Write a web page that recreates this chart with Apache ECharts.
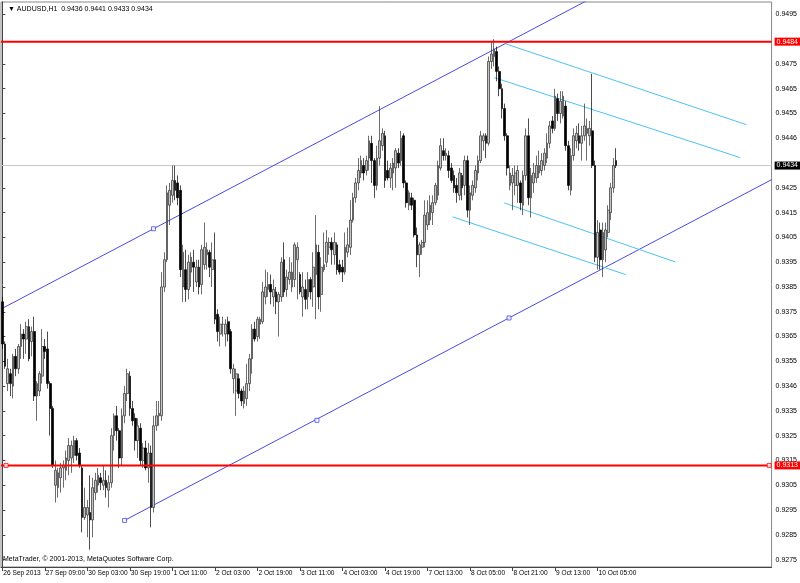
<!DOCTYPE html>
<html><head><meta charset="utf-8">
<script src="https://cdn.jsdelivr.net/npm/echarts@6/dist/echarts.min.js"></script>
<style>html,body{margin:0;padding:0;background:#fff}#c{width:800px;height:583px}</style>
</head><body><div id="c"></div>
<script>
const symbolName = 'AUDUSD,H1';
const xTickLabels = ['26 Sep 2013','27 Sep 09:00','30 Sep 03:00','30 Sep 19:00','1 Oct 11:00','2 Oct 03:00','2 Oct 19:00','3 Oct 11:00','4 Oct 03:00','4 Oct 19:00','7 Oct 13:00','8 Oct 05:00','8 Oct 21:00','9 Oct 13:00','10 Oct 05:00'];
const barsPerLabel = 16;
const totalSlots = 290;
const yTickValues = [0.9495,0.9475,0.9465,0.9455,0.9445,0.9425,0.9415,0.9405,0.9395,0.9385,0.9375,0.9365,0.9355,0.9345,0.9335,0.9325,0.9315,0.9305,0.9295,0.9285,0.9275];
const yTickLabels = ['0.9495','0.9475','0.9465','0.9455','0.9446','0.9425','0.9415','0.9405','0.9395','0.9385','0.9375','0.9365','0.9355','0.9346','0.9335','0.9325','0.9315','0.9305','0.9295','0.9285','0.9275'];

const openP = [
0.9379,0.9362,0.9346,0.9350,0.9345,0.9357,0.9352,0.9361,0.9366,0.9364,
0.9369,0.9363,0.9367,0.9341,0.9343,0.9349,0.9361,0.9360,0.9346,0.9336,
0.9305,0.9304,0.9308,0.9312,0.9311,0.9315,0.9316,0.9317,0.9323,0.9318,
0.9312,0.9292,0.9293,0.9294,0.9291,0.9302,0.9305,0.9308,0.9305,0.9307,
0.9303,0.9306,0.9325,0.9333,0.9327,0.9316,0.9333,0.9342,0.9349,0.9336,
0.9332,0.9323,0.9328,0.9315,0.9320,0.9312,0.9318,0.9296,0.9329,0.9333,
0.9333,0.9385,0.9396,0.9418,0.9422,0.9428,0.9427,0.9424,0.9385,0.9392,
0.9384,0.9391,0.9395,0.9387,0.9393,0.9386,0.9394,0.9398,0.9399,0.9392,
0.9396,0.9374,0.9366,0.9370,0.9366,0.9371,0.9367,0.9348,0.9343,0.9348,
0.9343,0.9338,0.9340,0.9346,0.9356,0.9368,0.9365,0.9370,0.9371,0.9381,
0.9384,0.9386,0.9381,0.9383,0.9379,0.9381,0.9396,0.9384,0.9388,0.9385,
0.9388,0.9396,0.9390,0.9381,0.9384,0.9381,0.9388,0.9385,0.9390,0.9399,
0.9382,0.9392,0.9395,0.9401,0.9403,0.9398,0.9402,0.9394,0.9393,0.9391,
0.9399,0.9401,0.9412,0.9421,0.9427,0.9431,0.9434,0.9432,0.9437,0.9443,
0.9436,0.9426,0.9437,0.9442,0.9446,0.9432,0.9429,0.9431,0.9433,0.9439,
0.9436,0.9446,0.9427,0.9418,0.9421,0.9420,0.9406,0.9398,0.9401,0.9403,
0.9410,0.9412,0.9415,0.9419,0.9422,0.9433,0.9440,0.9438,0.9438,0.9433,
0.9430,0.9426,0.9422,0.9430,0.9426,0.9436,0.9416,0.9422,0.9425,0.9431,
0.9436,0.9444,0.9446,0.9443,0.9476,0.9478,0.9480,0.9472,0.9465,0.9457,
0.9446,0.9426,0.9427,0.9426,0.9426,0.9427,0.9418,0.9430,0.9446,0.9421,
0.9427,0.9429,0.9431,0.9432,0.9434,0.9437,0.9443,0.9452,0.9449,0.9461,
0.9455,0.9454,0.9458,0.9442,0.9424,0.9438,0.9444,0.9446,0.9443,0.9446,
0.9447,0.9446,0.9448,0.9434,0.9397,0.9408,0.9396,0.9400,0.9407,0.9415,
0.9425,0.9436];
const closeP = [
0.9362,0.9353,0.9352,0.9346,0.9357,0.9352,0.9361,0.9366,0.9364,0.9369,
0.9356,0.9367,0.9341,0.9346,0.9350,0.9361,0.9359,0.9346,0.9336,0.9313,
0.9311,0.9310,0.9312,0.9313,0.9316,0.9321,0.9321,0.9323,0.9317,0.9313,
0.9292,0.9296,0.9296,0.9291,0.9304,0.9307,0.9309,0.9306,0.9307,0.9304,
0.9306,0.9325,0.9333,0.9327,0.9316,0.9333,0.9342,0.9350,0.9336,0.9331,
0.9323,0.9329,0.9315,0.9320,0.9312,0.9318,0.9296,0.9329,0.9333,0.9334,
0.9385,0.9396,0.9423,0.9424,0.9428,0.9424,0.9421,0.9392,0.9399,0.9384,
0.9395,0.9397,0.9393,0.9393,0.9385,0.9400,0.9401,0.9400,0.9393,0.9396,
0.9372,0.9367,0.9370,0.9370,0.9370,0.9366,0.9352,0.9352,0.9350,0.9342,
0.9339,0.9343,0.9346,0.9356,0.9368,0.9364,0.9372,0.9372,0.9383,0.9385,
0.9386,0.9383,0.9384,0.9379,0.9382,0.9395,0.9383,0.9389,0.9391,0.9391,
0.9402,0.9401,0.9383,0.9385,0.9380,0.9388,0.9383,0.9393,0.9402,0.9381,
0.9393,0.9394,0.9403,0.9403,0.9400,0.9403,0.9392,0.9391,0.9391,0.9401,
0.9402,0.9412,0.9421,0.9427,0.9432,0.9436,0.9431,0.9436,0.9444,0.9436,
0.9426,0.9437,0.9444,0.9447,0.9428,0.9429,0.9433,0.9435,0.9440,0.9435,
0.9445,0.9427,0.9419,0.9423,0.9418,0.9406,0.9398,0.9402,0.9403,0.9414,
0.9415,0.9418,0.9419,0.9426,0.9434,0.9442,0.9438,0.9439,0.9432,0.9428,
0.9425,0.9423,0.9431,0.9425,0.9436,0.9416,0.9423,0.9426,0.9432,0.9436,
0.9446,0.9446,0.9443,0.9476,0.9479,0.9481,0.9472,0.9465,0.9457,0.9446,
0.9433,0.9431,0.9430,0.9431,0.9432,0.9419,0.9430,0.9446,0.9421,0.9430,
0.9431,0.9434,0.9434,0.9436,0.9439,0.9443,0.9450,0.9449,0.9462,0.9455,
0.9460,0.9462,0.9442,0.9426,0.9438,0.9446,0.9447,0.9443,0.9446,0.9450,
0.9449,0.9449,0.9434,0.9397,0.9407,0.9396,0.9407,0.9408,0.9416,0.9425,
0.9434,0.9434];
const lowP = [
0.9360,0.9352,0.9343,0.9341,0.9340,0.9349,0.9350,0.9356,0.9356,0.9358,
0.9355,0.9357,0.9339,0.9331,0.9341,0.9346,0.9356,0.9344,0.9325,0.9312,
0.9298,0.9300,0.9302,0.9304,0.9307,0.9309,0.9310,0.9314,0.9315,0.9312,
0.9286,0.9291,0.9284,0.9279,0.9284,0.9299,0.9302,0.9303,0.9303,0.9300,
0.9296,0.9304,0.9319,0.9323,0.9312,0.9313,0.9330,0.9339,0.9333,0.9329,
0.9319,0.9316,0.9313,0.9312,0.9311,0.9306,0.9288,0.9294,0.9327,0.9329,
0.9331,0.9383,0.9395,0.9410,0.9419,0.9420,0.9418,0.9389,0.9379,0.9379,
0.9380,0.9385,0.9383,0.9385,0.9382,0.9382,0.9392,0.9392,0.9389,0.9385,
0.9370,0.9363,0.9361,0.9365,0.9361,0.9363,0.9350,0.9342,0.9333,0.9340,
0.9337,0.9336,0.9337,0.9343,0.9350,0.9363,0.9363,0.9364,0.9370,0.9378,
0.9381,0.9378,0.9377,0.9374,0.9365,0.9379,0.9381,0.9381,0.9386,0.9383,
0.9385,0.9380,0.9382,0.9373,0.9376,0.9376,0.9380,0.9377,0.9372,0.9376,
0.9375,0.9391,0.9393,0.9398,0.9394,0.9394,0.9390,0.9390,0.9387,0.9390,
0.9397,0.9398,0.9411,0.9419,0.9424,0.9429,0.9428,0.9430,0.9432,0.9427,
0.9421,0.9424,0.9434,0.9440,0.9425,0.9428,0.9425,0.9424,0.9425,0.9433,
0.9434,0.9425,0.9417,0.9416,0.9416,0.9405,0.9393,0.9389,0.9398,0.9401,
0.9408,0.9410,0.9410,0.9418,0.9420,0.9432,0.9436,0.9436,0.9429,0.9427,
0.9423,0.9419,0.9420,0.9420,0.9422,0.9413,0.9410,0.9420,0.9423,0.9428,
0.9435,0.9440,0.9437,0.9442,0.9473,0.9474,0.9468,0.9462,0.9453,0.9444,
0.9430,0.9424,0.9416,0.9422,0.9419,0.9416,0.9414,0.9428,0.9418,0.9413,
0.9423,0.9427,0.9429,0.9430,0.9432,0.9435,0.9441,0.9447,0.9448,0.9452,
0.9451,0.9453,0.9440,0.9424,0.9422,0.9436,0.9441,0.9440,0.9436,0.9444,
0.9436,0.9442,0.9433,0.9395,0.9392,0.9392,0.9389,0.9395,0.9405,0.9412,
0.9423,0.9433];
const highP = [
0.9381,0.9363,0.9356,0.9352,0.9358,0.9360,0.9362,0.9370,0.9368,0.9371,
0.9372,0.9369,0.9373,0.9347,0.9351,0.9368,0.9364,0.9367,0.9347,0.9337,
0.9315,0.9312,0.9314,0.9315,0.9319,0.9324,0.9323,0.9325,0.9324,0.9320,
0.9313,0.9304,0.9299,0.9309,0.9308,0.9310,0.9312,0.9310,0.9313,0.9311,
0.9309,0.9328,0.9334,0.9337,0.9328,0.9336,0.9345,0.9352,0.9351,0.9339,
0.9334,0.9332,0.9330,0.9322,0.9323,0.9322,0.9321,0.9333,0.9339,0.9339,
0.9391,0.9399,0.9426,0.9427,0.9434,0.9434,0.9430,0.9426,0.9402,0.9400,
0.9398,0.9399,0.9400,0.9396,0.9396,0.9402,0.9411,0.9403,0.9400,0.9403,
0.9407,0.9376,0.9373,0.9373,0.9372,0.9373,0.9368,0.9354,0.9352,0.9350,
0.9344,0.9345,0.9354,0.9358,0.9370,0.9371,0.9373,0.9373,0.9387,0.9392,
0.9391,0.9390,0.9388,0.9385,0.9383,0.9397,0.9403,0.9392,0.9397,0.9395,
0.9403,0.9403,0.9391,0.9391,0.9388,0.9391,0.9389,0.9399,0.9414,0.9402,
0.9397,0.9407,0.9408,0.9405,0.9405,0.9407,0.9403,0.9396,0.9396,0.9407,
0.9409,0.9420,0.9423,0.9429,0.9437,0.9438,0.9437,0.9438,0.9446,0.9446,
0.9437,0.9442,0.9458,0.9449,0.9448,0.9436,0.9435,0.9437,0.9441,0.9441,
0.9448,0.9447,0.9428,0.9424,0.9423,0.9421,0.9409,0.9403,0.9404,0.9420,
0.9420,0.9422,0.9422,0.9427,0.9436,0.9445,0.9445,0.9441,0.9440,0.9435,
0.9432,0.9429,0.9433,0.9431,0.9438,0.9438,0.9426,0.9428,0.9434,0.9438,
0.9448,0.9447,0.9447,0.9478,0.9484,0.9485,0.9482,0.9474,0.9467,0.9459,
0.9447,0.9434,0.9433,0.9434,0.9434,0.9428,0.9432,0.9449,0.9453,0.9433,
0.9435,0.9438,0.9440,0.9439,0.9441,0.9447,0.9452,0.9454,0.9465,0.9463,
0.9464,0.9464,0.9460,0.9444,0.9441,0.9449,0.9450,0.9451,0.9450,0.9459,
0.9453,0.9452,0.9471,0.9436,0.9412,0.9411,0.9411,0.9411,0.9418,0.9427,
0.9437,0.9441];

// horizontal levels
const redLevels = [0.9484, 0.9313];
const bidPrice = 0.9434;
// drawn objects: [barIndex, price] endpoints
const channelUpper = [[-0.5, 0.93761], [289.5, 0.95398]];
const channelLower = [[46, 0.92908], [289.5, 0.94283]];
const channelAnchors = [[56.9, 0.94085], [46, 0.92908], [118.4, 0.93312], [190.7, 0.93725]];
const cyanLines = [
  [[188.9, 0.94833], [280, 0.94505]],
  [[185.1, 0.94695], [277.7, 0.94372]],
  [[169.4, 0.94133], [234.6, 0.93900]],
  [[188.9, 0.94189], [253.3, 0.93951]]
];
const redAnchors = [[1.4, 0.9313], [288.6, 0.9313]];

const FONT = '"Liberation Sans", "DejaVu Sans", sans-serif';
const candleData = openP.map((o, i) => [o, closeP[i], lowP[i], highP[i]]);
const last = candleData.length - 1;
const titleText = '\u25BC ' + symbolName + '  ' + [openP[last], highP[last], lowP[last], closeP[last]].map(v => v.toFixed(4)).join(' ');
const slots = Array.from({length: totalSlots}, (_, i) => i);
const showIdx = (idx) => idx % barsPerLabel === 0 && idx / barsPerLabel < xTickLabels.length;
const xMin = -0.5, xMax = totalSlots - 0.5;

const lineSeries = (data, color) => ({
  type: 'line', xAxisIndex: 1, yAxisIndex: 0, data: data, symbol: 'none',
  lineStyle: {color: color, width: 1}, silent: true, clip: true, z: 3
});
const levelSeries = (value, color, width, boxColor, z) => ({
  type: 'line', xAxisIndex: 1, yAxisIndex: 0, data: [[xMin, value], [xMax, value]], symbol: 'none',
  lineStyle: {color: color, width: width}, silent: true, clip: false, z: z,
  endLabel: {show: true, distance: 3, formatter: () => value.toFixed(4), backgroundColor: boxColor, color: '#fff',
    fontSize: 7, fontFamily: FONT, padding: [1, 2, 0, 2]}
});

const chart = echarts.init(document.getElementById('c'), null, {renderer: 'canvas'});
chart.setOption({
  animation: false,
  backgroundColor: '#fff',
  title: {text: titleText, left: 3, top: 1, textStyle: {fontSize: 7, fontWeight: 'normal', color: '#000', fontFamily: FONT}},
  graphic: [{type: 'text', left: 3, top: 556, style: {text: 'MetaTrader, \u00A9 2001-2013, MetaQuotes Software Corp.', fontSize: 7, fill: '#000', fontFamily: FONT}}],
  grid: {left: 1, right: 27, top: 2, bottom: 16, show: true, borderColor: '#888', borderWidth: 1, backgroundColor: '#fff'},
  xAxis: [{
    type: 'category', data: slots, boundaryGap: true,
    axisLine: {show: true, lineStyle: {color: '#444'}},
    axisTick: {show: true, alignWithLabel: true, interval: (idx) => showIdx(idx), length: 4, lineStyle: {color: '#444'}},
    axisLabel: {interval: (idx) => showIdx(idx), formatter: (v, idx) => xTickLabels[idx / barsPerLabel] || '', align: 'left', margin: 3, fontSize: 6.6, color: '#000', fontFamily: FONT, padding: [0, 0, 0, 1], hideOverlap: false},
    splitLine: {show: false}
  }, {
    type: 'value', min: xMin, max: xMax, show: false
  }],
  yAxis: {
    type: 'value', position: 'right', min: 0.9272, max: 0.9500, scale: true,
    splitLine: {show: false},
    axisLine: {show: true, lineStyle: {color: '#444'}},
    axisTick: {show: true, length: 3, customValues: yTickValues, lineStyle: {color: '#444'}},
    axisLabel: {customValues: yTickValues, margin: 4, fontSize: 7, color: '#000', fontFamily: FONT,
      formatter: (v) => { const k = yTickValues.findIndex(t => Math.abs(t - v) < 1e-7); return k >= 0 ? yTickLabels[k] : ''; }}
  },
  series: [
    levelSeries(bidPrice, '#c8c8c8', 1, '#000', 1),
    {
      type: 'candlestick', xAxisIndex: 0, yAxisIndex: 0, data: candleData, barWidth: 2.2,
      itemStyle: {color: '#c4c4c4', color0: '#000000', borderColor: '#2e2e2e', borderColor0: '#000000', borderWidth: 0.7},
      z: 4
    },
    ...redLevels.map(v => levelSeries(v, '#ff0000', 2, '#ff0000', 5)),
    lineSeries(channelUpper, '#4a4ae6'),
    lineSeries(channelLower, '#4a4ae6'),
    ...cyanLines.map(l => lineSeries(l, '#4cc4f2')),
    {type: 'scatter', xAxisIndex: 1, yAxisIndex: 0, data: channelAnchors, symbol: 'rect', symbolSize: 4,
      itemStyle: {color: '#fff', borderColor: '#4a4ae6', borderWidth: 1}, silent: true, z: 6},
    {type: 'scatter', xAxisIndex: 1, yAxisIndex: 0, data: redAnchors, symbol: 'rect', symbolSize: 4,
      itemStyle: {color: '#fff', borderColor: '#ff0000', borderWidth: 1}, silent: true, z: 6, clip: false}
  ]
});
</script></body></html>
